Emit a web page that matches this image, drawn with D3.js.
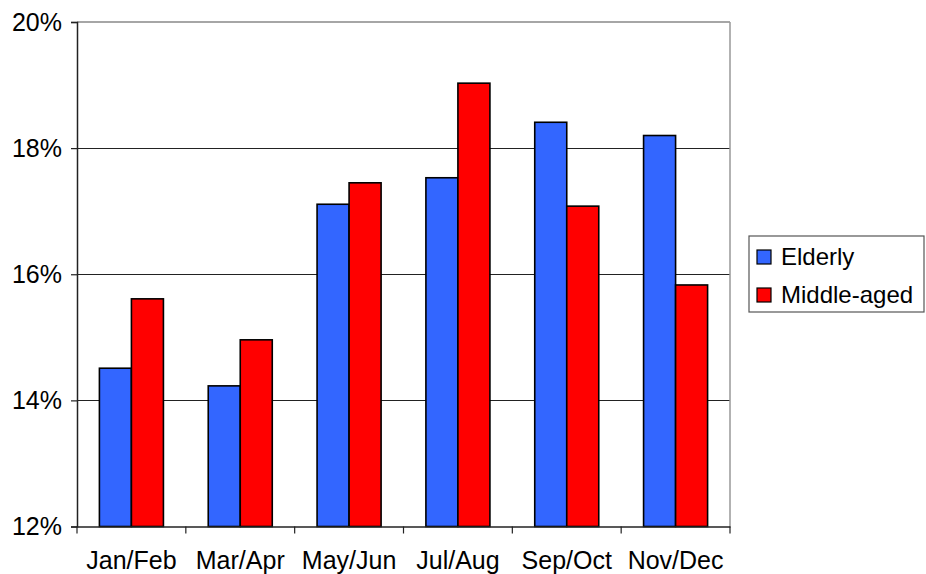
<!DOCTYPE html>
<html><head><meta charset="utf-8">
<script src="https://cdn.jsdelivr.net/npm/d3@7"></script>
<style>body{margin:0;background:#fff}svg{display:block;font-family:"Liberation Sans",Arial,sans-serif}</style>
</head><body>
<svg id="c" width="926" height="574"></svg>
<script>
const categories = ["Jan/Feb","Mar/Apr","May/Jun","Jul/Aug","Sep/Oct","Nov/Dec"];
const seriesNames = ["Elderly","Middle-aged"];
const elderly = [14.51, 14.23, 17.11, 17.53, 18.41, 18.20];
const middleAged = [15.61, 14.96, 17.45, 19.03, 17.08, 15.83];
const yTicks = [12, 14, 16, 18, 20];
const colors = ["#3366ff", "#ff0000"];

const svg = d3.select("#c");
const L = 77, R = 730, T = 22, B = 526.5;
const x = d3.scaleBand().domain(categories).range([L, R]).paddingInner(0).paddingOuter(0);
const x1 = d3.scaleBand().domain(seriesNames).range([0, x.bandwidth()]).paddingInner(0).paddingOuter(0.7);
const y = d3.scaleLinear().domain([12, 20]).range([B, T]);

// gridlines
svg.append("g").selectAll("line").data(yTicks.filter(d => d > 12 && d < 20)).join("line")
  .attr("x1", L).attr("x2", R).attr("y1", d => y(d)).attr("y2", d => y(d))
  .attr("stroke", "#222").attr("stroke-width", 1).attr("shape-rendering", "crispEdges");
// plot border top/right
svg.append("line").attr("x1", L).attr("x2", R).attr("y1", y(20)).attr("y2", y(20))
  .attr("stroke", "#888").attr("stroke-width", 1.5);
svg.append("line").attr("x1", R).attr("x2", R).attr("y1", T).attr("y2", B)
  .attr("stroke", "#999").attr("stroke-width", 1.5);

const data = categories.map((c, i) => ({c, vals: [elderly[i], middleAged[i]]}));
const g = svg.append("g").selectAll("g").data(data).join("g")
  .attr("transform", d => `translate(${x(d.c)},0)`);
g.selectAll("rect").data(d => d.vals.map((v, k) => ({k, v}))).join("rect")
  .attr("x", d => x1(seriesNames[d.k]))
  .attr("width", x1.bandwidth())
  .attr("y", d => y(d.v))
  .attr("height", d => y(12) - y(d.v))
  .attr("fill", d => colors[d.k])
  .attr("stroke", "#000").attr("stroke-width", 1.6);

// y axis
const yAxis = d3.axisLeft(y).tickValues(yTicks).tickFormat(d => d + "%").tickSize(6).tickPadding(9);
const ya = svg.append("g").attr("transform", `translate(${L},0)`).call(yAxis);
ya.select(".domain").attr("stroke", "#222").attr("stroke-width", 1.5);
ya.selectAll(".tick line").attr("stroke", "#222").attr("stroke-width", 1.2);
ya.selectAll("text").attr("font-size", 25).attr("fill", "#000").attr("font-family", "Liberation Sans, Arial, sans-serif");

// x axis
const xa = svg.append("g").attr("transform", `translate(0,${B})`)
  .call(d3.axisBottom(x).tickSize(0).tickPadding(25));
xa.select(".domain").attr("stroke", "#222").attr("stroke-width", 1.5);
xa.selectAll("text").attr("font-size", 25).attr("fill", "#000").attr("font-family", "Liberation Sans, Arial, sans-serif");
// boundary ticks
const bounds = categories.map(c => x(c)).concat([R]);
xa.append("g").selectAll("line").data(bounds).join("line")
  .attr("x1", d => d).attr("x2", d => d).attr("y1", 0).attr("y2", 7)
  .attr("stroke", "#222").attr("stroke-width", 1.2);

// legend
const lg = svg.append("g").attr("transform", "translate(749,236)");
lg.append("rect").attr("width", 175).attr("height", 76).attr("fill", "#fff")
  .attr("stroke", "#555").attr("stroke-width", 1.2);
const items = lg.selectAll("g").data(seriesNames).join("g")
  .attr("transform", (d, i) => `translate(8,${14 + i * 38})`);
items.append("rect").attr("width", 14).attr("height", 14)
  .attr("fill", (d, i) => colors[i]).attr("stroke", "#000").attr("stroke-width", 1.2);
items.append("text").attr("x", 24).attr("y", 7).attr("dy", "0.35em")
  .attr("font-size", 24).attr("fill", "#000").text(d => d);
</script>
</body></html>
